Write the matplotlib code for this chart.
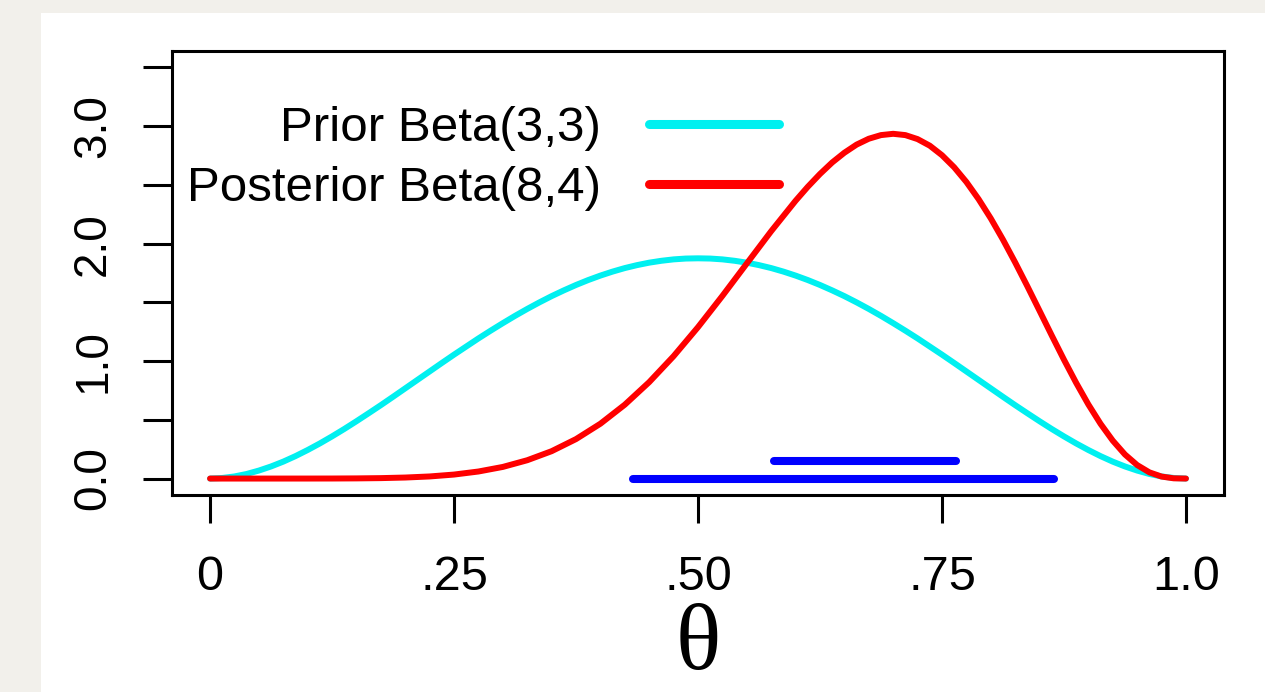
import matplotlib
matplotlib.use("Agg")
import matplotlib.pyplot as plt
from matplotlib.lines import Line2D
from matplotlib.patches import Rectangle

# prior Beta(3,3) density, theta step 0.0125
theta_prior = [i * 0.0125 for i in range(81)]
prior_half = [0.0, 0.005, 0.018, 0.039, 0.068, 0.103, 0.144, 0.191, 0.243, 0.299,
              0.359, 0.422, 0.488, 0.556, 0.625, 0.696, 0.768, 0.840, 0.912, 0.984,
              1.055, 1.124, 1.193, 1.259, 1.323, 1.385, 1.444, 1.500, 1.553, 1.602,
              1.648, 1.690, 1.728, 1.762, 1.792, 1.817, 1.838, 1.854, 1.866, 1.873,
              1.875]
prior = prior_half + prior_half[-2::-1]

# posterior Beta(8,4) density, step 0.025 up to 0.6 then 0.0125
theta_post = [i * 0.025 for i in range(25)] + [0.6 + i * 0.0125 for i in range(1, 33)]
posterior = [0.0, 0.0, 0.0, 0.0, 0.0001, 0.0004, 0.0014, 0.0037, 0.0087, 0.0179,
             0.034, 0.060, 0.099, 0.156, 0.233, 0.336, 0.467, 0.629, 0.821, 1.042,
             1.289, 1.555, 1.831, 2.106, 2.365,
             2.484, 2.593, 2.691, 2.774, 2.843, 2.893, 2.924, 2.935, 2.924, 2.890,
             2.834, 2.753, 2.650, 2.525, 2.379, 2.215, 2.034, 1.840, 1.637, 1.428,
             1.218, 1.012, 0.815, 0.631, 0.466, 0.323, 0.205, 0.115, 0.053, 0.017,
             0.002, 0.0]

# interval bars: (low, high, height)
hdi_95 = (0.433, 0.865, 0.0)
hdi_50 = (0.578, 0.764, 0.15)

x_ticks = [0, 0.25, 0.5, 0.75, 1.0]
x_labels = ['0', '.25', '.50', '.75', '1.0']
y_ticks = [0, 0.5, 1.0, 1.5, 2.0, 2.5, 3.0, 3.5]
y_labels = ['0.0', '', '1.0', '', '2.0', '', '3.0', '']

plt.rcParams['font.family'] = ['Liberation Sans', 'DejaVu Sans']

fig = plt.figure(figsize=(12.65, 6.92), dpi=100, facecolor='#f2f0eb')
fig.patches.append(Rectangle((41 / 1265, 0), 1, (692 - 13) / 692,
                             transform=fig.transFigure, facecolor='white',
                             edgecolor='none', zorder=-10))

ax = fig.add_axes([172 / 1265, (692 - 495) / 692, 1052 / 1265, 444 / 692])
ax.set_facecolor('white')

ax.plot(theta_prior, prior, color='#00f0f0', lw=4.3, solid_capstyle='round')
ax.plot(theta_post, posterior, color='#ff0000', lw=4.3, solid_capstyle='round')

for lo, hi, h in [hdi_95, hdi_50]:
    ax.plot([lo, hi], [h, h], color='#0000ff', lw=5.8, solid_capstyle='round')

ax.set_xlim(-0.039, 1.039)
ax.set_ylim(-0.14, 3.64)

ax.set_xticks(x_ticks)
ax.set_xticklabels(x_labels, fontsize=35)
ax.set_yticks(y_ticks)
ax.set_yticklabels(y_labels, fontsize=33, rotation=90, va='center')
ax.tick_params(axis='x', length=20, width=2.2, pad=23)
ax.tick_params(axis='y', length=21, width=2.2, pad=20)
for s in ax.spines.values():
    s.set_linewidth(2.2)

fig.text(698 / 1265, 1 - 646 / 692, 'θ', family=['Liberation Serif', 'DejaVu Serif'],
         fontsize=68, ha='center', va='center')

handles = [Line2D([], [], color='#00f0f0', lw=6.5, solid_capstyle='round'),
           Line2D([], [], color='#ff0000', lw=6.5, solid_capstyle='round')]
ax.legend(handles, ['Prior Beta(3,3)', 'Posterior Beta(8,4)'],
          loc='upper left', bbox_to_anchor=(0.0143, 0.876), frameon=False,
          markerfirst=False, fontsize=35.5, handlelength=2.64,
          handletextpad=0.97, labelspacing=0.3, borderpad=0, borderaxespad=0)

fig.savefig('out.png', dpi=100, facecolor=fig.get_facecolor())
